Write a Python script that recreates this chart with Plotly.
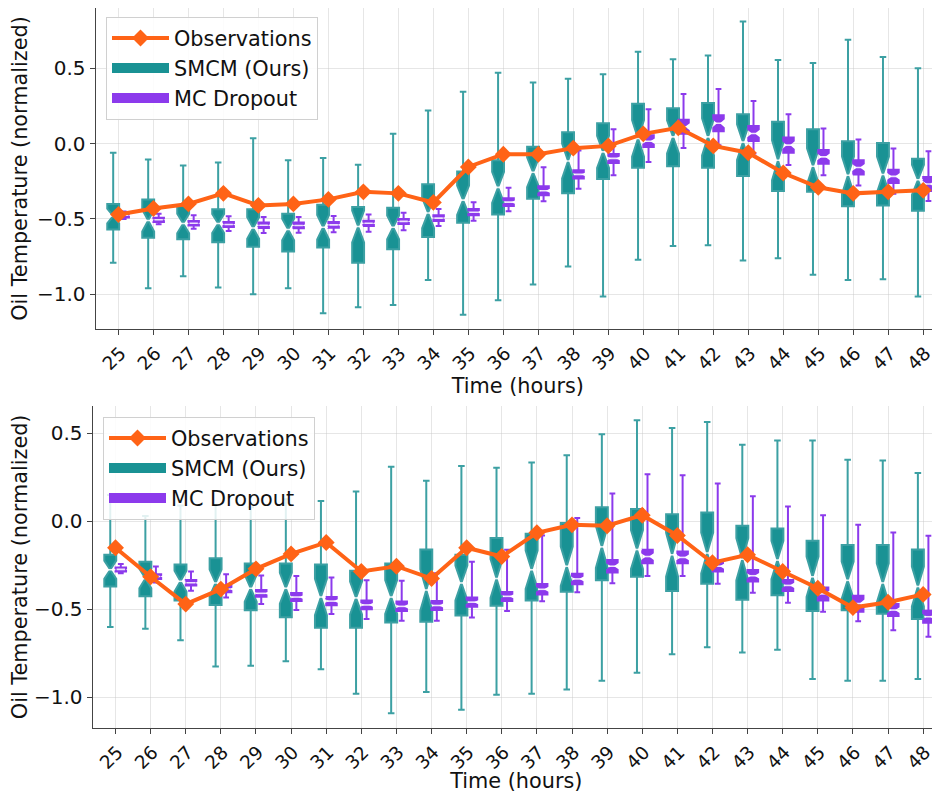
import math
import plotly.graph_objects as go

# ---------------- data ----------------
hours = list(range(25, 49))
hour_labels = [str(h) for h in hours]

# top panel
obs_top = [-0.47, -0.43, -0.40, -0.33, -0.41, -0.40, -0.37, -0.32, -0.33, -0.39, -0.155, -0.07,
           -0.07, -0.03, -0.015, 0.065, 0.105, -0.015, -0.06, -0.195, -0.29, -0.33, -0.32, -0.31]
smcm_top_q1 = [-0.57, -0.625, -0.635, -0.655, -0.685, -0.715, -0.69, -0.79, -0.70, -0.62, -0.525, -0.47,
               -0.365, -0.33, -0.235, -0.16, -0.15, -0.16, -0.215, -0.315, -0.32, -0.415, -0.41, -0.445]
smcm_top_med = [-0.48, -0.51, -0.53, -0.53, -0.56, -0.57, -0.555, -0.55, -0.555, -0.46, -0.375, -0.29,
                -0.19, -0.115, -0.055, 0.035, 0.045, 0.045, 0.01, -0.11, -0.15, -0.21, -0.205, -0.24]
smcm_top_q3 = [-0.40, -0.37, -0.41, -0.435, -0.435, -0.465, -0.405, -0.42, -0.425, -0.27, -0.185, -0.11,
               -0.02, 0.075, 0.135, 0.265, 0.235, 0.27, 0.195, 0.145, 0.095, 0.015, 0.005, -0.10]
smcm_top_lo = [-0.79, -0.96, -0.88, -0.955, -1.0, -0.96, -1.125, -1.085, -1.07, -0.905, -1.135, -1.04,
               -0.935, -0.815, -1.015, -0.77, -0.68, -0.675, -0.775, -0.76, -0.87, -0.905, -0.9, -1.015]
smcm_top_hi = [-0.06, -0.105, -0.145, -0.125, 0.035, -0.11, -0.095, -0.14, 0.065, 0.22, 0.345, 0.47,
               0.405, 0.43, 0.46, 0.61, 0.56, 0.585, 0.81, 0.555, 0.535, 0.69, 0.575, 0.50]

mc_top_q1 = [-0.49, -0.52, -0.544, -0.553, -0.56, -0.562, -0.558, -0.546, -0.533, -0.513, -0.476, -0.414,
             -0.343, -0.232, -0.128, -0.022, 0.066, 0.082, 0.018, -0.06, -0.133, -0.204, -0.261, -0.314]
mc_top_med = [-0.475, -0.505, -0.528, -0.537, -0.542, -0.543, -0.539, -0.528, -0.516, -0.494, -0.455, -0.388,
              -0.313, -0.204, -0.098, 0.016, 0.112, 0.135, 0.067, -0.01, -0.088, -0.158, -0.217, -0.268]
mc_top_q3 = [-0.46, -0.491, -0.513, -0.52, -0.524, -0.524, -0.52, -0.511, -0.50, -0.476, -0.434, -0.363,
             -0.283, -0.177, -0.069, 0.055, 0.159, 0.188, 0.117, 0.04, -0.042, -0.111, -0.173, -0.221]
mc_top_lo = [-0.50, -0.535, -0.564, -0.58, -0.593, -0.591, -0.588, -0.584, -0.575, -0.546, -0.511, -0.449,
             -0.383, -0.299, -0.21, -0.122, -0.029, -0.011, -0.066, -0.142, -0.21, -0.277, -0.332, -0.381]
mc_top_hi = [-0.45, -0.465, -0.476, -0.482, -0.487, -0.487, -0.48, -0.471, -0.458, -0.434, -0.389, -0.292,
             -0.157, -0.046, 0.095, 0.228, 0.33, 0.363, 0.283, 0.195, 0.10, 0.027, -0.033, -0.051]

# bottom panel
obs_bot = [-0.15, -0.315, -0.47, -0.385, -0.27, -0.185, -0.12, -0.285, -0.255, -0.325, -0.15, -0.2,
           -0.065, -0.02, -0.025, 0.035, -0.08, -0.235, -0.19, -0.285, -0.38, -0.49, -0.46, -0.415]
smcm_bot_q1 = [-0.37, -0.425, -0.45, -0.475, -0.505, -0.545, -0.605, -0.605, -0.575, -0.57, -0.535, -0.48,
               -0.45, -0.40, -0.335, -0.315, -0.395, -0.355, -0.445, -0.42, -0.51, -0.505, -0.525, -0.555]
smcm_bot_med = [-0.275, -0.325, -0.34, -0.35, -0.38, -0.38, -0.43, -0.435, -0.43, -0.39, -0.35, -0.325,
                -0.275, -0.255, -0.145, -0.16, -0.19, -0.18, -0.215, -0.22, -0.315, -0.335, -0.35, -0.37]
smcm_bot_q3 = [-0.19, -0.23, -0.245, -0.21, -0.24, -0.24, -0.245, -0.28, -0.24, -0.16, -0.19, -0.095,
               -0.07, -0.01, 0.08, 0.07, 0.04, 0.05, -0.025, -0.04, -0.11, -0.135, -0.135, -0.16]
smcm_bot_lo = [-0.60, -0.61, -0.675, -0.825, -0.82, -0.795, -0.84, -0.98, -1.09, -0.97, -1.07, -0.985,
               -0.98, -0.955, -0.905, -0.86, -0.755, -0.715, -0.745, -0.73, -0.895, -0.905, -0.905, -0.895]
smcm_bot_hi = [0.15, 0.03, 0.09, 0.095, 0.08, 0.125, 0.115, 0.17, 0.31, 0.23, 0.315, 0.305,
               0.335, 0.375, 0.495, 0.575, 0.53, 0.565, 0.435, 0.46, 0.46, 0.35, 0.345, 0.275]

mc_bot_q1 = [-0.285, -0.327, -0.365, -0.403, -0.428, -0.452, -0.477, -0.50, -0.51, -0.504, -0.485, -0.452,
             -0.416, -0.357, -0.291, -0.238, -0.238, -0.285, -0.342, -0.395, -0.449, -0.513, -0.538, -0.576]
mc_bot_med = [-0.273, -0.313, -0.349, -0.384, -0.409, -0.43, -0.453, -0.475, -0.483, -0.478, -0.459, -0.426,
              -0.386, -0.327, -0.255, -0.20, -0.205, -0.255, -0.309, -0.364, -0.412, -0.467, -0.504, -0.542]
mc_bot_q3 = [-0.262, -0.30, -0.333, -0.365, -0.39, -0.407, -0.43, -0.45, -0.456, -0.452, -0.433, -0.401,
             -0.356, -0.297, -0.219, -0.162, -0.171, -0.224, -0.276, -0.333, -0.376, -0.422, -0.47, -0.508]
mc_bot_lo = [-0.295, -0.348, -0.394, -0.433, -0.47, -0.504, -0.527, -0.555, -0.565, -0.565, -0.546, -0.51,
             -0.454, -0.403, -0.352, -0.31, -0.31, -0.354, -0.405, -0.462, -0.513, -0.567, -0.618, -0.656]
mc_bot_hi = [-0.243, -0.257, -0.285, -0.30, -0.308, -0.31, -0.319, -0.335, -0.338, -0.295, -0.23, -0.162,
             -0.08, 0.019, 0.158, 0.268, 0.262, 0.215, 0.143, 0.084, 0.034, -0.019, -0.063, -0.082]

y_tick_vals = [-1.0, -0.5, 0.0, 0.5]
y_tick_text = ["\u22121.0", "\u22120.5", "0.0", "0.5"]

N_SAMPLES = 30  # notch span = 1.57 * IQR / sqrt(N)

# ---------------- style ----------------
TEAL = "rgb(25,146,148)"
TEAL_W = "rgb(60,160,163)"
PURPLE = "rgb(140,58,236)"
ORANGE = "#FF6316"
FONT = "DejaVu Sans"
FS_T = 20.8   # titles / legend
FS_Y = 20     # y tick labels
FS_X = 18.5   # x tick labels

fig = go.Figure()


def add_panel(xa, ya, legend, obs, sm, mc):
    sm_q1, sm_med, sm_q3, sm_lo, sm_hi = sm
    mc_q1, mc_med, mc_q3, mc_lo, mc_hi = mc
    xs_sm = [h - 0.15 for h in hours]
    xs_mc = [h + 0.15 for h in hours]
    for name, rank, xs, q1, med, q3, lo, hi, fill, wcol, w in [
        ("SMCM (Ours)", 2, xs_sm, sm_q1, sm_med, sm_q3, sm_lo, sm_hi, TEAL, TEAL_W, 0.34),
        ("MC Dropout", 3, xs_mc, mc_q1, mc_med, mc_q3, mc_lo, mc_hi, PURPLE, PURPLE, 0.30),
    ]:
        span = [1.57 * (b - a) / math.sqrt(N_SAMPLES) for a, b in zip(q1, q3)]
        fig.add_trace(go.Box(
            name=name, x=xs, q1=q1, median=med, q3=q3, lowerfence=lo, upperfence=hi,
            notched=True, notchspan=span, notchwidth=0.5, width=w, whiskerwidth=0.55,
            fillcolor=fill, line=dict(color=wcol, width=2), boxpoints=False,
            xaxis=xa, yaxis=ya, showlegend=False, hoverinfo="skip"))
        fig.add_trace(go.Scatter(
            x=xs, y=med, mode="markers", showlegend=False, hoverinfo="skip",
            marker=dict(symbol="line-ew", size=7 if w > 0.32 else 6,
                        line=dict(color="rgba(255,255,255,0.85)", width=1.6)),
            xaxis=xa, yaxis=ya))
        # legend patch (legend-only entry, same colour as the boxes)
        fig.add_trace(go.Scatter(
            name=name, x=[None], y=[None], mode="lines",
            line=dict(color=fill, width=14), xaxis=xa, yaxis=ya,
            legend=legend, legendgroup=legend + name, legendrank=rank, showlegend=True))
    fig.add_trace(go.Scatter(
        name="Observations", x=hours, y=obs, mode="lines+markers",
        line=dict(color=ORANGE, width=4), marker=dict(symbol="diamond", size=13, color=ORANGE),
        xaxis=xa, yaxis=ya, legend=legend, legendgroup=legend + "obs", legendrank=1,
        hoverinfo="skip"))


add_panel("x", "y", "legend", obs_top,
          (smcm_top_q1, smcm_top_med, smcm_top_q3, smcm_top_lo, smcm_top_hi),
          (mc_top_q1, mc_top_med, mc_top_q3, mc_top_lo, mc_top_hi))
add_panel("x2", "y2", "legend2", obs_bot,
          (smcm_bot_q1, smcm_bot_med, smcm_bot_q3, smcm_bot_lo, smcm_bot_hi),
          (mc_bot_q1, mc_bot_med, mc_bot_q3, mc_bot_lo, mc_bot_hi))

# page body has an 8 px margin: lay out in window pixels minus 8
OFF = 8
W, H = 940 - OFF, 793 - OFF
ML, MT, MB = 84, 0, 65
PW, PH = W - ML, H - MT - MB


def clamp(v):
    return max(0.0, min(1.0, v))


def xdom(px_left):
    return [clamp((px_left - OFF - ML) / PW), 1.0]


def ydom(px_top, px_bot):
    return [clamp((H - MB - (px_bot - OFF)) / PH), clamp((H - MB - (px_top - OFF)) / PH)]


def lx(px):
    return (px - OFF - ML) / PW


def ly(py):
    return (H - MB - (py - OFF)) / PH


axis_common = dict(showgrid=True, gridcolor="rgba(200,200,200,0.45)", gridwidth=1,
                   showline=True, linecolor="#444", linewidth=1.2, mirror=False,
                   ticks="outside", ticklen=5, tickcolor="#444", zeroline=False)
xcommon = dict(axis_common, tickmode="array", tickvals=hours, ticktext=hour_labels,
               tickangle=-45, range=[24.35, 48.48], ticklabelshift=2, ticklabeloverflow="allow",
               tickfont=dict(family=FONT, size=FS_X, color="#111"),
               title=dict(text="Time (hours)", font=dict(family=FONT, size=FS_T, color="#111"),
                          standoff=0))
ycommon = dict(axis_common, tickmode="array", tickvals=y_tick_vals, ticktext=y_tick_text,
               tickfont=dict(family=FONT, size=FS_Y, color="#111"),
               title=dict(text="Oil Temperature (normalized)",
                          font=dict(family=FONT, size=FS_T, color="#111"), standoff=8))

legend_common = dict(font=dict(family=FONT, size=FS_T, color="#111"), bgcolor="rgba(255,255,255,0.85)",
                     bordercolor="#d0d0d0", borderwidth=1, xanchor="left", yanchor="top",
                     tracegroupgap=3, itemwidth=57, traceorder="normal", xref="paper", yref="paper")

fig.update_layout(
    width=W, height=H, autosize=False,
    margin=dict(l=ML, r=0, t=MT, b=MB, autoexpand=False),
    plot_bgcolor="white", paper_bgcolor="white",
    boxmode="overlay",
    xaxis=dict(xcommon, domain=xdom(95.7), anchor="y"),
    yaxis=dict(ycommon, domain=ydom(8, 329), range=[-1.23, 0.90], anchor="x"),
    xaxis2=dict(xcommon, domain=xdom(92.7), anchor="y2"),
    yaxis2=dict(ycommon, domain=ydom(405.7, 728), range=[-1.174, 0.657], anchor="x2"),
    legend=dict(legend_common, x=lx(106), y=ly(17)),
    legend2=dict(legend_common, x=lx(103), y=ly(417)),
)

fig.write_html("out.html")
